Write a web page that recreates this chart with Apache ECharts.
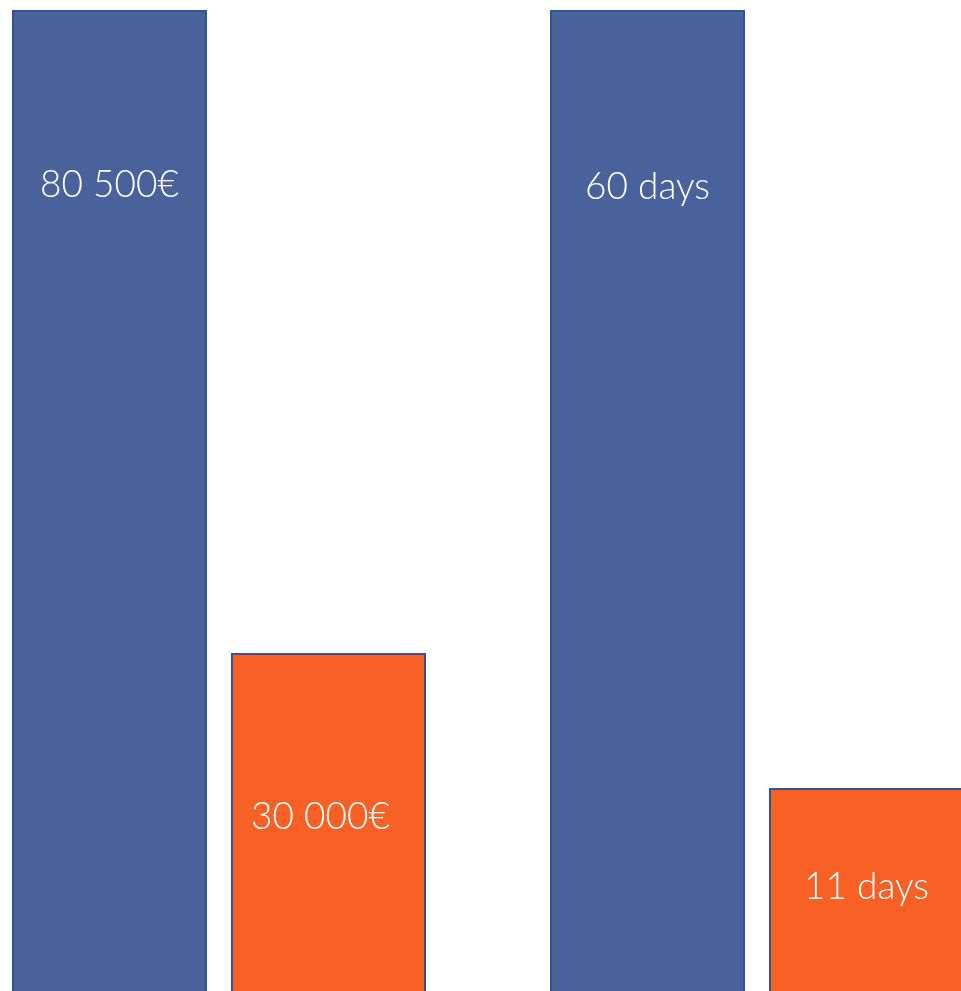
<!DOCTYPE html>
<html>
<head>
<meta charset="utf-8">
<script src="https://cdn.jsdelivr.net/npm/echarts@6/dist/echarts.min.js"></script>
<style>
html,body{margin:0;padding:0;background:#fff;}
#c{width:961px;height:991px;}
</style>
</head>
<body>
<div id="c"></div>
<script>
// Data
var costCategories = ['Before', 'After'];
var costValues = [80500, 30000];
var costLabels = ['80 500€', '30 000€'];
var timeCategories = ['Before', 'After'];
var timeValues = [60, 11];
var timeLabels = ['60 days', '11 days'];

// Styles
var BLUE = '#4A629C';
var ORANGE = '#F76125';
var EDGE = '#2F5597';
var fills = [BLUE, ORANGE];
var costLabelDist = [157, 146];
var timeLabelDist = [159, 81];
var costLabelShift = [0, -8];
var timeLabelShift = [0, 0];
var TIME_MIN = -4.56;

function items(values, labels, dists, shifts) {
  return values.map(function (v, i) {
    return {
      value: v,
      itemStyle: { color: fills[i], borderColor: EDGE, borderWidth: 2 },
      label: { show: true, position: 'insideTop', distance: dists[i], offset: [shifts[i], 0], formatter: labels[i] }
    };
  });
}

var labelStyle = { color: '#fff', fontFamily: 'Lato', fontWeight: 300, fontSize: 37 };

var chart = echarts.init(document.getElementById('c'));
chart.setOption({
  animation: false,
  grid: [
    { left: 0, width: 438, top: 10, bottom: -44, outerBoundsMode: 'none', containLabel: false },
    { left: 538, width: 438, top: 10, bottom: -44, outerBoundsMode: 'none', containLabel: false }
  ],
  xAxis: [
    { type: 'category', gridIndex: 0, data: costCategories, show: false },
    { type: 'category', gridIndex: 1, data: timeCategories, show: false }
  ],
  yAxis: [
    { type: 'value', gridIndex: 0, min: 0, max: 80500, show: false },
    { type: 'value', gridIndex: 1, min: TIME_MIN, max: 60, startValue: TIME_MIN, show: false }
  ],
  series: [
    {
      type: 'bar', xAxisIndex: 0, yAxisIndex: 0, barWidth: 195, clip: false,
      label: labelStyle,
      data: items(costValues, costLabels, costLabelDist, costLabelShift)
    },
    {
      type: 'bar', xAxisIndex: 1, yAxisIndex: 1, barWidth: 195, clip: false,
      label: labelStyle,
      data: items(timeValues, timeLabels, timeLabelDist, timeLabelShift)
    }
  ]
});
</script>
</body>
</html>
